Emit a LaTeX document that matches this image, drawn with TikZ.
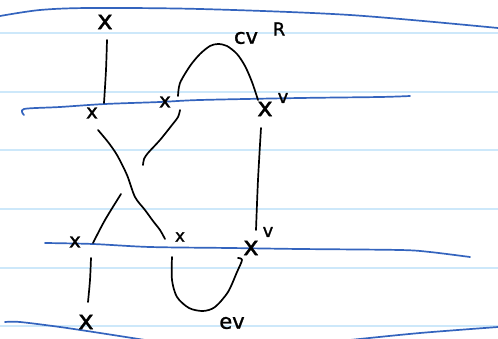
\documentclass[tikz,border=0pt]{standalone}
\usepackage{fontspec}
\setmainfont{DejaVu Sans}
\newfontfamily\hand[BoldFont={DejaVu Sans},BoldFeatures={FakeBold=1.2}]{DejaVu Sans}
\definecolor{rulec}{RGB}{205,232,250}
\definecolor{bluepen}{RGB}{52,100,190}
\begin{document}
\begin{tikzpicture}[x=1pt,y=-1pt,
  rule/.style={draw=rulec, line width=1.1pt},
  pen/.style={draw=bluepen, line width=1.7pt, line cap=round, line join=round},
  ink/.style={draw=black, line width=1.7pt, line cap=round, line join=round},
  bigx/.style={inner sep=0pt, font=\hand\bfseries\fontsize{26}{26}\selectfont},
  smallx/.style={inner sep=0pt, font=\hand\bfseries\fontsize{20}{20}\selectfont},
  tinyx/.style={inner sep=0pt, font=\hand\bfseries\fontsize{17}{17}\selectfont},
  lbl/.style={inner sep=0pt, font=\hand\bfseries\fontsize{21}{21}\selectfont},
  sup/.style={inner sep=0pt, font=\hand\bfseries\fontsize{18}{18}\selectfont}]
\useasboundingbox (0,0) rectangle (498,339);
\fill[white] (0,0) rectangle (498,339);
% ruled paper lines
\foreach \yy in {33,92,150,209,268,326}
  \draw[rule] (0,\yy) -- (498,\yy);
% hand-drawn blue lines
\draw[pen] plot[smooth] coordinates {(0,16) (40,10) (90,8) (200,9) (350,15) (498,28)};
\draw[pen] plot[smooth] coordinates {(24,115) (24,109) (60,107) (105,104) (160,102) (200,100) (300,98) (380,97) (410,96)};
\draw[pen] plot[smooth] coordinates {(45,243) (93,244) (150,247) (230,248) (300,249) (400,250) (430,252) (470,257)};
\draw[pen] plot[smooth] coordinates {(5,322) (20,322) (60,327) (100,333) (145,340)};
\draw[pen] plot[smooth] coordinates {(350,340) (420,333) (498,327)};
% marks and labels
\node[bigx] (xt) at (105,22) {x};
\node[smallx] (xa) at (92,113) {x};
\node[smallx] (xb) at (165,102) {x};
\node[bigx] (xc) at (265,109) {x};
\node[sup] (vc) at (283,98) {v};
\node[lbl] (cv) at (246,38) {cv};
\node[sup] (rr) at (279,29) {R};
\node[smallx] (xd) at (75,242) {x};
\node[tinyx] (xe) at (180,237) {x};
\node[bigx] (xf) at (251,248) {x};
\node[sup] (vf) at (268,232) {v};
\node[bigx] (xg) at (86,322) {x};
\node[lbl] (ev) at (232,323) {ev};
% stroke end points
\coordinate (a1) at (107,40);  \coordinate (a2) at (104,103);
\coordinate (b1) at (178,96);  \coordinate (b2) at (258,100);
\coordinate (c1) at (180,110); \coordinate (c2) at (143,165);
\coordinate (d1) at (98,130);  \coordinate (d2) at (165,239);
\coordinate (e1) at (121,194); \coordinate (e2) at (93,243);
\coordinate (f1) at (261,128); \coordinate (f2) at (256,230);
\coordinate (g1) at (172,257); \coordinate (g2) at (238,258);
\coordinate (h1) at (91,258);  \coordinate (h2) at (88,302);
% black strokes
\draw[ink] plot[smooth] coordinates {(a1) (106,70) (a2)};
\draw[ink] plot[smooth] coordinates {(b1) (180,83) (190,66) (200,54) (210,46) (218,44) (227,46) (237,54) (245,66) (252,82) (b2)};
\draw[ink] plot[smooth] coordinates {(c1) (178,117) (172,125) (160,140) (148,153) (144,159) (c2)};
\draw[ink] plot[smooth] coordinates {(d1) (108,142) (117,155) (127,175) (135,197) (145,210) (153,221) (160,230) (d2)};
\draw[ink] plot[smooth] coordinates {(e1) (105,220) (e2)};
\draw[ink] plot[smooth] coordinates {(f1) (258,180) (f2)};
\draw[ink] plot[smooth] coordinates {(g1) (172,280) (177,297) (189,308) (203,311) (215,307) (228,292) (237,272) (242,260) (g2)};
\draw[ink] plot[smooth] coordinates {(h1) (90,280) (h2)};
\end{tikzpicture}
\end{document}
